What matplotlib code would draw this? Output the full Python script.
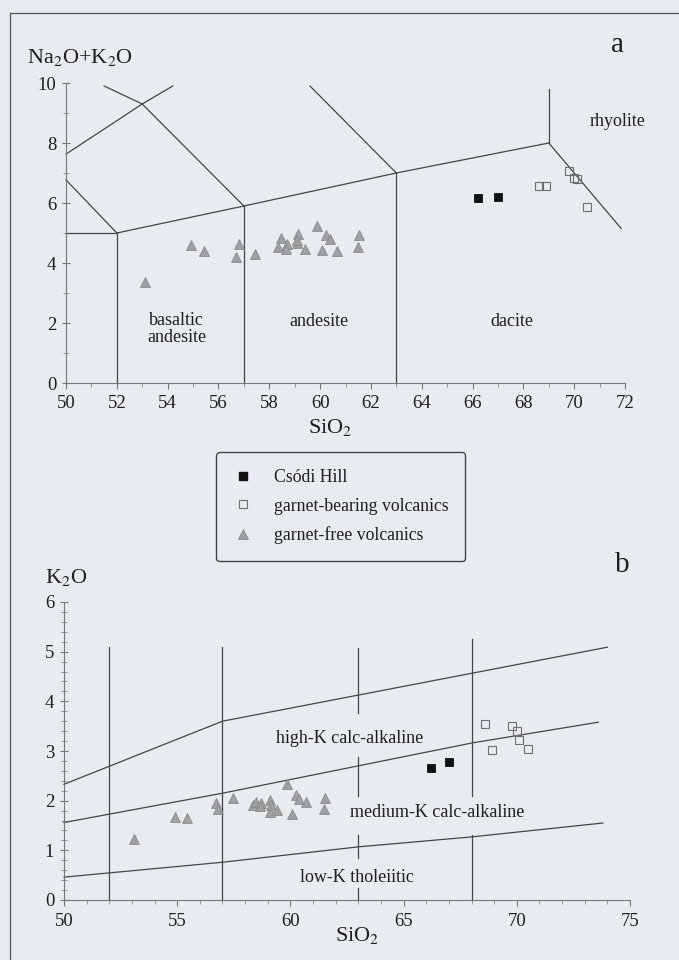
import numpy as np
import matplotlib.pyplot as plt
from matplotlib.lines import Line2D
from matplotlib.ticker import MultipleLocator

plt.rcParams['font.family'] = ['Liberation Serif', 'DejaVu Serif']
plt.rcParams['mathtext.fontset'] = 'stix'

# Csodi Hill dacite
csodi_sio2 = [66.2, 67.0]
csodi_alk = [6.17, 6.20]
csodi_k2o = [2.66, 2.77]

# garnet-bearing volcanics
gb_sio2 = [68.6, 68.9, 69.8, 70.0, 70.1, 70.5]
gb_alk = [6.57, 6.57, 7.07, 6.85, 6.80, 5.87]
gb_k2o = [3.54, 3.03, 3.51, 3.41, 3.22, 3.05]

# garnet-free volcanics
gf_sio2 = [53.1, 54.9, 55.45, 56.7, 56.8, 57.45, 58.33, 58.48, 58.68, 58.67, 59.08,
           59.15, 59.08, 59.4, 59.87, 60.07, 60.25, 60.39, 60.67, 61.52, 61.5]
gf_alk = [3.38, 4.60, 4.41, 4.19, 4.62, 4.29, 4.54, 4.84, 4.62, 4.48, 4.66,
          4.96, 4.77, 4.47, 5.25, 4.44, 4.93, 4.80, 4.40, 4.95, 4.54]
gf_k2o = [1.22, 1.68, 1.66, 1.96, 1.83, 2.06, 1.92, 1.97, 1.95, 1.90, 2.02,
          1.91, 1.78, 1.81, 2.33, 1.73, 2.11, 2.04, 1.98, 2.06, 1.83]

# TAS field boundaries (Le Bas et al.)
tas_lines = [
    [(50, 5.0), (52, 5.0)],
    [(52, 0), (52, 5.0)],
    [(52, 5.0), (57, 5.9)],
    [(57, 0), (57, 5.9)],
    [(57, 5.9), (63, 7.0)],
    [(63, 0), (63, 7.0)],
    [(63, 7.0), (69, 8.0)],
    [(69, 8.0), (71.85, 5.15)],
    [(69, 8.0), (69, 9.8)],
    [(50, 6.77), (52, 5.0)],
    [(57, 5.9), (53, 9.3), (51.5, 9.9)],
    [(50, 7.63), (53, 9.3), (54.2, 9.9)],
    [(63, 7.0), (59.6, 9.9)],
]
tas_names = ['rhyolite', 'dacite', 'andesite', 'basaltic\nandesite']
tas_xy = [(71.7, 8.7), (67.55, 2.05), (59.95, 2.05), (54.35, 1.8)]

# K2O-SiO2 boundaries (Peccerillo & Taylor)
k_lines = [
    [(50, 2.33), (57, 3.6), (74.0, 5.09)],
    [(50, 1.56), (57, 2.15), (68, 3.16), (73.6, 3.58)],
    [(50, 0.46), (57, 0.76), (63, 1.07), (68, 1.27), (73.8, 1.55)],
    [(52, 0), (52, 5.09)],
    [(57, 0), (57, 5.09)],
    [(63, 3.76), (63, 5.07)],
    [(63, 2.10), (63, 2.88)],
    [(63, 0.85), (63, 1.31)],
    [(63, 0), (63, 0.24)],
    [(68, 2.10), (68, 5.25)],
    [(68, 0), (68, 1.31)],
]
k_names = ['high-K calc-alkaline', 'medium-K calc-alkaline', 'low-K tholeiitic']
k_xy = [(62.63, 3.26), (66.5, 1.77), (62.92, 0.46)]

bg = '#e8ebf0'
lc = '#454545'
tc = '#1e1e1e'

fig = plt.figure(figsize=(6.79, 9.6), dpi=100, facecolor=bg)

def style(ax, xmaj, ymaj, ymin):
    ax.set_facecolor(bg)
    for s in ['top', 'right']:
        ax.spines[s].set_visible(False)
    for s in ['left', 'bottom']:
        ax.spines[s].set_color('#777777')
        ax.spines[s].set_linewidth(0.8)
    ax.xaxis.set_major_locator(MultipleLocator(xmaj))
    ax.xaxis.set_minor_locator(MultipleLocator(1))
    ax.yaxis.set_major_locator(MultipleLocator(ymaj))
    ax.yaxis.set_minor_locator(MultipleLocator(ymin))
    ax.tick_params(axis='x', which='major', direction='out', length=4, width=0.8,
                   color='#777777', labelsize=13.5, labelcolor=tc, pad=5)
    ax.tick_params(axis='x', which='minor', direction='out', length=3, width=0.6,
                   color='#888888')
    ax.tick_params(axis='y', which='major', direction='inout', length=6, width=0.8,
                   color='#777777', labelsize=13.5, labelcolor=tc, pad=4)
    ax.tick_params(axis='y', which='minor', direction='inout', length=4, width=0.6,
                   color='#888888')

def plot_samples(ax, csodi, gb, gf):
    ax.plot(gf_sio2, gf, ls='None', marker='^', ms=6.5, mfc='#a0a0a0',
            mec='#8a8a8a', mew=0.6, clip_on=False)
    ax.plot(gb_sio2, gb, ls='None', marker='s', ms=5.2, mfc='none',
            mec='#6e6e6e', mew=0.8, clip_on=False)
    ax.plot(csodi_sio2, csodi, ls='None', marker='s', ms=5.2, mfc='#111111',
            mec='#111111', mew=0.6, clip_on=False)

# panel a: TAS
ax1 = fig.add_axes([66/679, 1-383/960, 559/679, 300/960])
style(ax1, 2, 2, 1)
ax1.set_xlim(50, 72)
ax1.set_ylim(0, 10)
for seg in tas_lines:
    xs, ys = zip(*seg)
    ax1.plot(xs, ys, color=lc, lw=0.9, clip_on=False)
for name, (x, y) in zip(tas_names, tas_xy):
    ax1.text(x, y, name, ha='center', va='center', fontsize=13, color=tc,
             linespacing=1.0, clip_on=False)
plot_samples(ax1, csodi_alk, gb_alk, gf_alk)

# panel b: K2O vs SiO2
ax2 = fig.add_axes([64/679, 1-900/960, 566/679, 298/960])
style(ax2, 5, 1, 0.2)
ax2.set_xlim(50, 75)
ax2.set_ylim(0, 6)
for seg in k_lines:
    xs, ys = zip(*seg)
    ax2.plot(xs, ys, color=lc, lw=0.9, clip_on=False)
for name, (x, y) in zip(k_names, k_xy):
    ax2.text(x, y, name, ha='center', va='center', fontsize=13, color=tc)
plot_samples(ax2, csodi_k2o, gb_k2o, gf_k2o)

# axis titles and panel letters
fig.text(27/679, 1-57/960, r'Na$_2$O+K$_2$O', fontsize=16, color=tc, va='center', ha='left')
fig.text(308/679, 1-427/960, r'SiO$_2$', fontsize=16, color=tc, va='center', ha='left')
fig.text(45/679, 1-578/960, r'K$_2$O', fontsize=16, color=tc, va='center', ha='left')
fig.text(335/679, 1-935/960, r'SiO$_2$', fontsize=16, color=tc, va='center', ha='left')
fig.text(618/679, 1-45/960, 'a', fontsize=21, color=tc, va='center', ha='center')
fig.text(622/679, 1-565/960, 'b', fontsize=21, color=tc, va='center', ha='center')

# page frame
fig.add_artist(Line2D([10/679, 10/679], [0, 1-13/960], color='#555555', lw=0.9))
fig.add_artist(Line2D([10/679, 1], [1-13/960, 1-13/960], color='#555555', lw=0.9))

handles = [
    Line2D([], [], ls='None', marker='s', ms=5.2, mfc='#111111', mec='#111111'),
    Line2D([], [], ls='None', marker='s', ms=5.2, mfc='none', mec='#6e6e6e', mew=0.8),
    Line2D([], [], ls='None', marker='^', ms=6.5, mfc='#a0a0a0', mec='#8a8a8a', mew=0.6),
]
labels = ['Csódi Hill', 'garnet-bearing volcanics', 'garnet-free volcanics']
leg = fig.legend(handles, labels, loc='upper left',
                 bbox_to_anchor=(216/679, 1-452/960), fontsize=12.8,
                 frameon=True, fancybox=True, facecolor=bg, edgecolor='#444444',
                 framealpha=1, handlelength=1.1, handletextpad=1.2,
                 labelspacing=0.66, borderpad=0.95, borderaxespad=0)
leg.get_frame().set_linewidth(1.0)
for t in leg.get_texts():
    t.set_color(tc)

plt.savefig('out.png', dpi=100, facecolor=bg)
